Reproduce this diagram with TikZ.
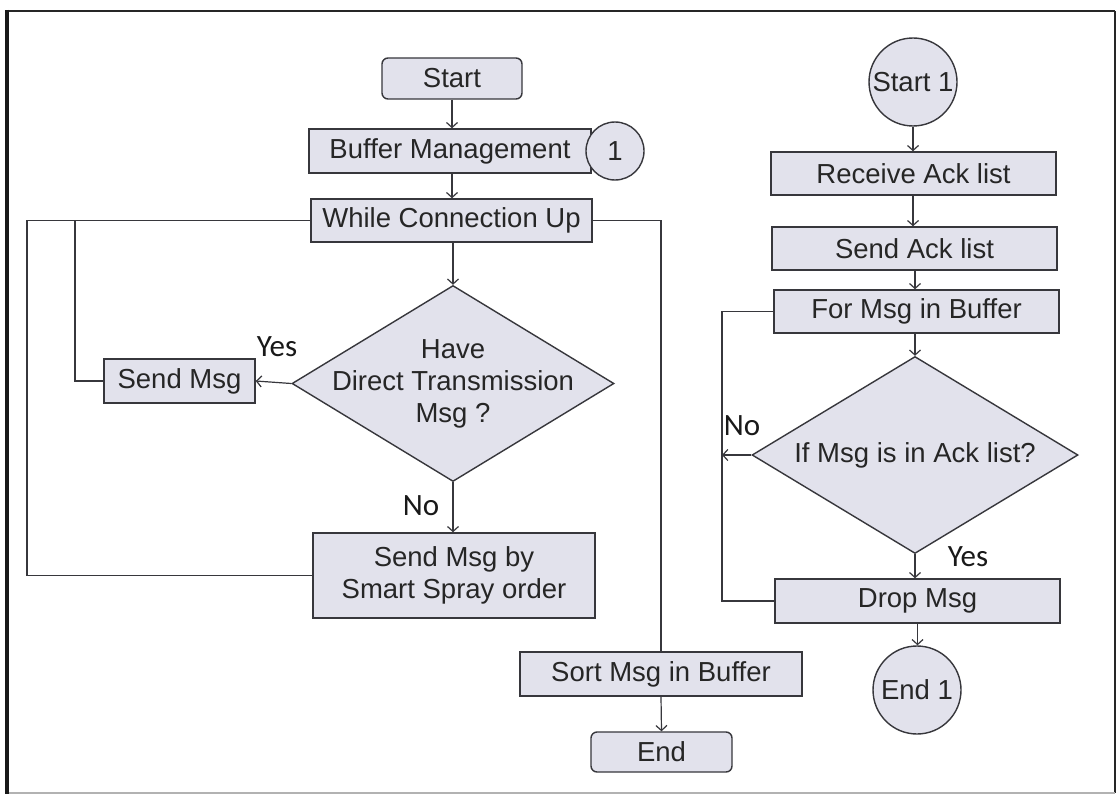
\documentclass[tikz,border=0pt]{standalone}
\usepackage{fontspec}
\setmainfont{Liberation Sans}
\newfontfamily\labelfont{Carlito}
\usetikzlibrary{shapes.geometric,arrows.meta}

\definecolor{boxfill}{RGB}{226,226,236}
\definecolor{ink}{RGB}{55,55,60}

\tikzset{
  txt/.style={font=\fontsize{27.5}{32}\selectfont, text=black!85},
  stepbox/.style={draw=ink, line width=1.4pt, fill=boxfill, txt, inner sep=0pt, align=center},
  termbox/.style={stepbox, rounded corners=6pt},
  connector/.style={draw=ink, line width=1.4pt, fill=boxfill, circle, txt, inner sep=0pt},
  decision/.style={draw=ink, line width=1.4pt, fill=boxfill, diamond, inner sep=0pt},
  flow/.style={draw=ink, line width=1.2pt},
  arr/.style={flow, -{Straight Barb[length=5pt,width=11pt,line width=1.2pt]}},
  yn/.style={font=\labelfont\fontsize{31}{34}\selectfont, text=black!90, inner sep=0pt}
}

\begin{document}
\begin{tikzpicture}[x=1pt, y=-1pt]
\useasboundingbox (0,0) rectangle (1118,797);
\fill[white] (0,0) rectangle (1118,797);

% page frame
\draw[black!85, line width=2.5pt] (7,11) -- (1115,11);
\draw[black!85, line width=2pt] (1115,11) -- (1115,793);
\draw[black!30, line width=1.5pt] (7,793) -- (1115,793);
\draw[black!90, line width=4pt] (7,9.8) -- (7,794);

% ---------- main flow ----------
\node[termbox, minimum width=140pt, minimum height=41pt] (start) at (452,78.5) {Start};
\node[stepbox, minimum width=282pt, minimum height=44pt] (buf) at (450,151) {Buffer Management};
\node[connector, minimum size=58pt] (c1) at (615,151) {1};
\node[stepbox, minimum width=281pt, minimum height=43pt] (while) at (451.5,220.5) {While Connection Up};
\node[decision, minimum width=322pt, minimum height=196pt,
      label={[txt, align=center]center:Have\\Direct Transmission\\Msg ?}] (d1) at (453,383.5) {};
\node[stepbox, minimum width=151pt, minimum height=44pt] (send) at (179.5,381) {Send Msg};
\node[stepbox, minimum width=282pt, minimum height=85pt] (spray) at (454,575.5) {Send Msg by\\Smart Spray order};
\node[stepbox, minimum width=282pt, minimum height=44pt] (sort) at (661,674) {Sort Msg in Buffer};
\node[termbox, minimum width=141pt, minimum height=40pt] (end) at (661.5,752) {End};

\node[yn] (yes1) at (277,347) {Yes};
\node[yn] (no1) at (421,506) {No};

\draw[arr] (start.south) -- (start.south |- buf.north);
\draw[arr] (start.south |- buf.south) -- (start.south |- while.north);
\draw[arr] (d1.north |- while.south) -- (d1.north);
\draw[arr] (d1.west) -- (send.east);
\draw[arr] (d1.south) -- (d1.south |- spray.north);
\coordinate (loopin) at (75,220.5);
\coordinate (loopout) at (27,220.5);
\draw[flow] (send.west) -| (loopin) -- (while.west);
\draw[flow] (spray.west) -| (loopout) -- (loopin);
\coordinate (sortturn) at (661,220.5);
\draw[flow] (while.east) -- (sortturn) -- (sort.north);
\draw[arr] (sort.south) -- (end.north);

% ---------- acknowledgement flow ----------
\node[connector, minimum size=88pt] (s1) at (913,82) {Start 1};
\node[stepbox, minimum width=285pt, minimum height=43pt] (recv) at (913.5,173.5) {Receive Ack list};
\node[stepbox, minimum width=285pt, minimum height=43pt] (sack) at (914.5,248.5) {Send Ack list};
\node[stepbox, minimum width=285pt, minimum height=43pt] (formsg) at (916.5,311.5) {For Msg in Buffer};
\node[decision, minimum width=326pt, minimum height=197pt,
      label={[txt]center:If Msg is in Ack list?}] (d2) at (915,455) {};
\node[stepbox, minimum width=285pt, minimum height=44pt] (drop) at (917.5,601) {Drop Msg};
\node[connector, minimum size=88pt] (e1) at (917,690) {End 1};

\node[yn] (no2) at (742,426) {No};
\node[yn] (yes2) at (968,557) {Yes};

\draw[arr] (s1.south) -- (s1.south |- recv.north);
\draw[arr] (s1.south |- recv.south) -- (s1.south |- sack.north);
\draw[arr] (sack.south -| d2.north) -- (formsg.north -| d2.north);
\draw[arr] (d2.north |- formsg.south) -- (d2.north);
\draw[arr] (d2.south) -- (d2.south |- drop.north);
\draw[arr] (drop.south) -- (drop.south |- e1.north);
\coordinate (ackloop) at (722,311.5);
\draw[flow] (formsg.west) -- (ackloop) |- (drop.west);
\draw[arr] (d2.west) -- (ackloop |- d2.west);
\end{tikzpicture}
\end{document}
